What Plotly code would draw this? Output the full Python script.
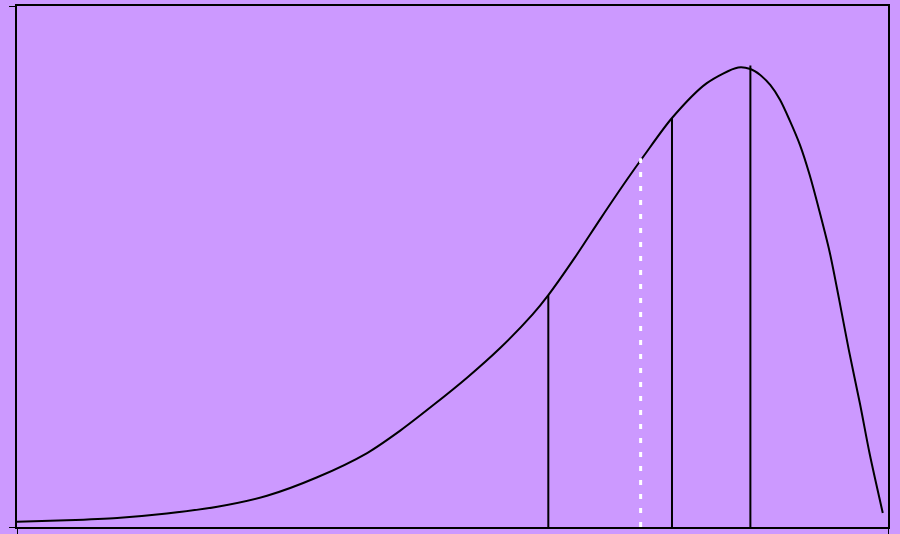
import plotly.graph_objects as go

# Curve (density-like shape), x in 0..100, y in 0..100
curve_x = [0, 5.7, 11.5, 17.2, 23.0, 28.7, 34.4, 40.2, 44.0, 47.8, 51.7, 55.5, 59.2,
           61.0, 64.0, 67.0, 70.0, 72.0, 75.2, 79.2, 82.8, 84.2, 85.3, 86.5,
           87.6, 88.7, 89.9, 91.0, 92.1, 93.3, 94.4, 95.5, 96.8, 97.9, 99.4]
curve_y = [1.0, 1.3, 1.75, 2.6, 3.9, 6.0, 9.5, 14.2, 18.5, 23.4, 28.7, 34.4, 40.8,
           44.5, 51.6, 59.2, 66.6, 71.3, 78.5, 85.2, 88.2, 87.9, 86.8, 84.8,
           82.0, 78.1, 73.3, 67.6, 60.8, 52.8, 43.6, 34.0, 23.5, 14.0, 2.7]

# Vertical marker lines
solid_x = [61.0, 75.2, 84.2]
solid_top = [44.5, 78.5, 88.6]
dotted_x = [71.6]
dotted_top = [70.8]

fig = go.Figure()
fig.add_trace(go.Scatter(x=curve_x, y=curve_y, mode="lines",
                         line=dict(color="black", width=2, shape="spline", smoothing=0.8),
                         showlegend=False, hoverinfo="skip"))
for xv, top in zip(solid_x, solid_top):
    fig.add_trace(go.Scatter(x=[xv, xv], y=[0, top], mode="lines",
                             line=dict(color="black", width=2),
                             showlegend=False, hoverinfo="skip"))
for xv, top in zip(dotted_x, dotted_top):
    fig.add_trace(go.Scatter(x=[xv, xv], y=[0, top], mode="lines",
                             line=dict(color="white", width=3, dash="5px,9px"),
                             showlegend=False, hoverinfo="skip"))

axis_common = dict(showgrid=False, zeroline=False, showline=True, linecolor="black",
                   linewidth=2, mirror=True, ticks="outside", ticklen=6, tickwidth=1,
                   tickcolor="black", showticklabels=False, tickvals=[0, 100],
                   range=[0, 100], automargin=False)
fig.update_xaxes(**axis_common)
fig.update_yaxes(**axis_common)
fig.update_layout(width=900, height=534,
                  margin=dict(l=17, r=12, t=6, b=7, autoexpand=False),
                  paper_bgcolor="#CC99FF", plot_bgcolor="#CC99FF")
fig.write_html("out.html", config={"displayModeBar": False},
               post_script="document.body.style.margin='0';document.body.style.background='#CC99FF';")
